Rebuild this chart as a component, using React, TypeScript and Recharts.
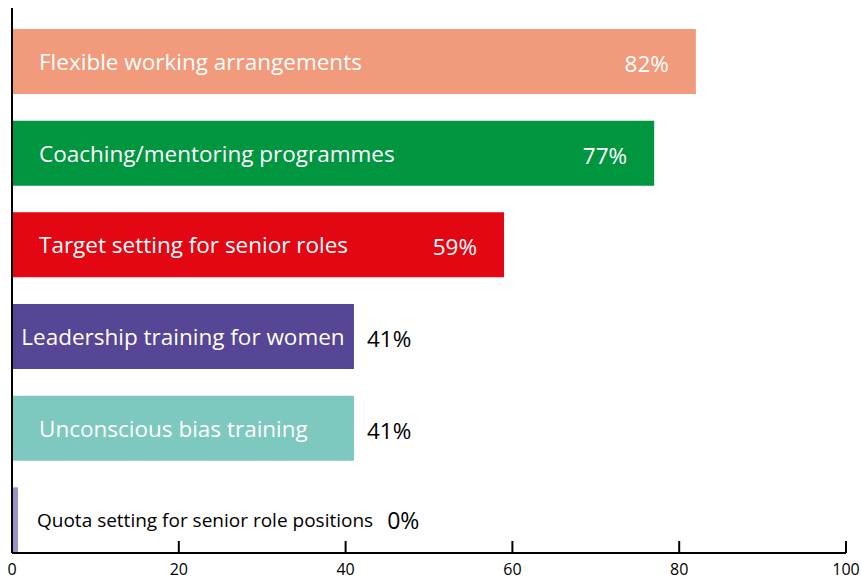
import React from "react";
import { BarChart, Bar, XAxis, YAxis, Cell, LabelList } from "recharts";

const categories = [
  "Flexible working arrangements",
  "Coaching/mentoring programmes",
  "Target setting for senior roles",
  "Leadership training for women",
  "Unconscious bias training",
  "Quota setting for senior role positions",
];
const values = [82, 77, 59, 41, 41, 0];
const barColors = ["#F19A7C", "#00963F", "#E30613", "#574595", "#7DC8BF", "#9D91C8"];
const xTicks = [0, 20, 40, 60, 80, 100];

const data = categories.map((name, i) => ({ name, value: values[i] }));

const FONT = "'Open Sans', 'Noto Sans', sans-serif";

function XTick({ x, y, payload }: any) {
  return (
    <g>
      <line x1={x} x2={x} y1={y - 12} y2={y} stroke="#000" strokeWidth={2} />
      <text x={x} y={y + 22} textAnchor="middle" fontSize={16} fill="#000" fontFamily={FONT}>
        {payload.value}
      </text>
    </g>
  );
}

function BarText(props: any) {
  const { x, y, width, height, index } = props;
  const name = categories[index];
  const value = values[index];
  const cy = y + height / 2;
  const inset = 27;

  if (value === 0) {
    return (
      <text x={x + 25} y={cy} dominantBaseline="central" fontFamily={FONT} fill="#000" fontSize={19}>
        <tspan>{name}</tspan>
        <tspan dx={14} fontSize={23}>{value}%</tspan>
      </text>
    );
  }

  const nameWidth = name.length * 11.2;
  const centered = inset * 2 + nameWidth > width;
  const valueInside = value > 50;

  return (
    <g fontFamily={FONT} fontSize={22.5}>
      <text
        x={centered ? x + width / 2 : x + inset}
        y={cy}
        textAnchor={centered ? "middle" : "start"}
        dominantBaseline="central"
        fill="#fff"
      >
        {name}
      </text>
      <text
        x={valueInside ? x + width - inset : x + width + 13}
        y={cy + 2}
        textAnchor={valueInside ? "end" : "start"}
        dominantBaseline="central"
        fill={valueInside ? "#fff" : "#000"}
      >
        {value}%
      </text>
    </g>
  );
}

export default function App() {
  return (
    <div style={{ position: "absolute", left: 0, top: 0, width: 861, height: 580, background: "#fff" }}>
      <BarChart
        width={861}
        height={580}
        data={data}
        layout="vertical"
        margin={{ top: 8, right: 15, left: 11, bottom: 0 }}
      >
        <XAxis
          type="number"
          domain={[0, 100]}
          ticks={xTicks}
          height={27}
          axisLine={{ stroke: "#000", strokeWidth: 2 }}
          tickLine={false}
          tickSize={0}
          tickMargin={0}
          tick={<XTick />}
        />
        <YAxis
          type="category"
          dataKey="name"
          width={1}
          tick={false}
          tickLine={false}
          axisLine={{ stroke: "#000", strokeWidth: 2 }}
          padding={{ top: 8, bottom: -13 }}
        />
        <Bar dataKey="value" barSize={65} minPointSize={6} isAnimationActive={false}>
          {data.map((d, i) => (
            <Cell key={d.name} fill={barColors[i]} />
          ))}
          <LabelList dataKey="value" content={<BarText />} />
        </Bar>
      </BarChart>
    </div>
  );
}
